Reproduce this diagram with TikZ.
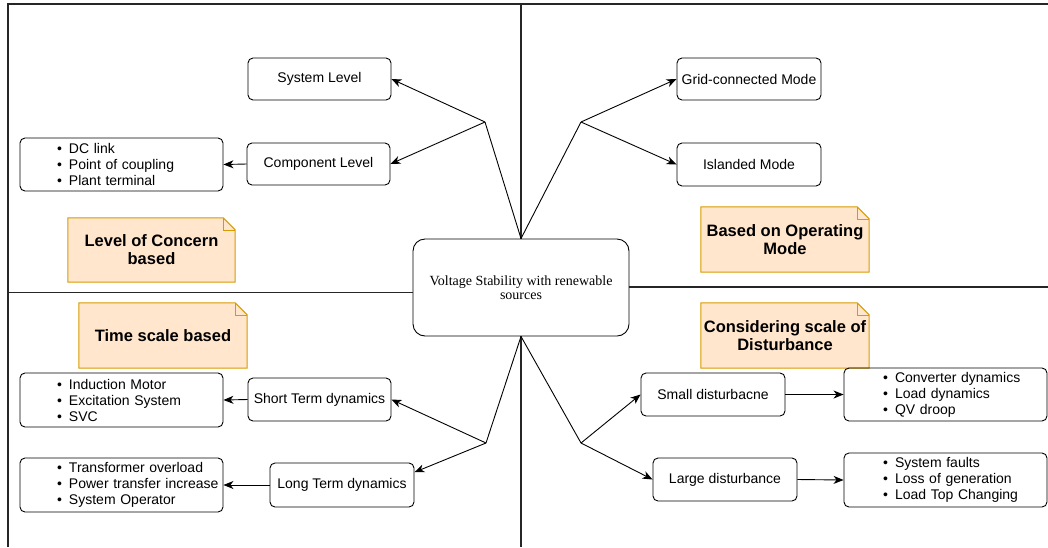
\documentclass[tikz,border=0pt]{standalone}
\usepackage{fontspec}
\setmainfont{Liberation Sans}
\newfontfamily\serifc{Liberation Serif}
\usetikzlibrary{arrows.meta,calc,backgrounds}
\definecolor{notefill}{HTML}{FFE6CC}
\definecolor{notedraw}{HTML}{D79B00}
\newcommand{\bitem}{\hspace*{49pt}\llap{\textbullet\hspace{7pt}}}
\begin{document}
\begin{tikzpicture}[x=1pt,y=-1pt,
  box/.style={draw=black, rounded corners=5pt, line width=0.9pt, font=\fontsize{14}{16}\selectfont, inner sep=0pt, align=center},
  bul/.style={box, minimum width=203pt, text width=203pt, align=left},
  notebox/.style={inner sep=0pt, align=center, font=\fontsize{16.5}{18}\selectfont\bfseries},
  arr/.style={-{Stealth[length=10pt,width=8pt,inset=3pt]}, line width=0.9pt},
  ln/.style={line width=0.9pt},
  frame/.style={line width=1.3pt, draw=black!85}
]
\useasboundingbox (0,0) rectangle (1048,547);

% central
\node[box, minimum width=216pt, minimum height=97pt, rounded corners=12pt, font=\serifc\fontsize{14}{14.5}\selectfont] (C) at (521,287.5) {Voltage Stability with renewable\\sources};

% top left
\node[box, minimum width=143pt, minimum height=42pt] (SL) at (319.5,79) {System Level};
\node[box, minimum width=143pt, minimum height=42pt] (CL) at (318.5,164) {Component Level};
\node[bul, minimum height=53pt] (B1) at (121.5,164.5) {\bitem DC link\\\bitem Point of coupling\\\bitem Plant terminal};
\node[notebox, minimum width=167pt, minimum height=64pt] (N1) at (151.5,250) {Level of Concern\\based};

% top right
\node[box, minimum width=144pt, minimum height=42pt] (GM) at (749,79) {Grid-connected Mode};
\node[box, minimum width=144pt, minimum height=43pt] (IM) at (749,164.5) {Islanded Mode};
\node[notebox, minimum width=168pt, minimum height=65pt] (N2) at (785,239.5) {Based on Operating\\Mode};

% bottom left
\node[notebox, minimum width=168pt, minimum height=65pt] (N3) at (163,335.5) {Time scale based};
\node[bul, minimum height=54pt] (B2) at (121.5,400) {\bitem Induction Motor\\\bitem Excitation System\\\bitem SVC};
\node[box, minimum width=143pt, minimum height=43pt] (ST) at (319.5,399.5) {Short Term dynamics};
\node[bul, minimum height=54pt] (B3) at (121.5,485) {\bitem Transformer overload\\\bitem Power transfer increase\\\bitem System Operator};
\node[box, minimum width=144pt, minimum height=44pt] (LT) at (342,485) {Long Term dynamics};

% bottom right
\node[notebox, minimum width=168pt, minimum height=65pt] (N4) at (785,335.5) {Considering scale of\\Disturbance};
\node[box, minimum width=144pt, minimum height=43pt] (SD) at (713,394.5) {Small disturbacne};
\node[box, minimum width=144pt, minimum height=43pt] (LD) at (725,479.5) {Large disturbance};
\node[bul, minimum height=53pt] (B4) at (945.5,394.5) {\hspace*{2pt}\bitem Converter dynamics\\\hspace*{2pt}\bitem Load dynamics\\\hspace*{2pt}\bitem QV droop};
\node[bul, minimum height=54pt] (B5) at (945.5,480) {\hspace*{2pt}\bitem System faults\\\hspace*{2pt}\bitem Loss of generation\\\hspace*{2pt}\bitem Load Top Changing};

% notes background
\begin{scope}[on background layer]
\foreach \n in {N1,N2,N3,N4}{
  \filldraw[fill=notefill, draw=notedraw, line width=1pt]
    (\n.south west) -- (\n.north west) -- ([xshift=-12pt]\n.north east)
    -- ([yshift=-12pt]\n.north east) -- (\n.south east) -- cycle;
  \draw[notedraw, line width=0.6pt] ([xshift=-12pt]\n.north east) -- ([xshift=-12pt,yshift=-12pt]\n.north east) -- ([yshift=-12pt]\n.north east);
}
\end{scope}

% frame
\coordinate (TL) at (8,4);
\coordinate (TR) at (1048,4);
\coordinate (BL) at (8,547);
\coordinate (HL) at (8,292.5);
\coordinate (HR) at (1048,287);
\draw[frame] (BL) -- (TL) -- (TR);
\draw[frame] (HL) -- (HL -| C.west);
\draw[frame] (C.east |- HR) -- (HR);
\draw[frame] (C.north) -- (C.north |- TL);
\draw[frame] (C.south) -- (C.south |- BL);

% junctions
\coordinate (J1) at (485,122);
\coordinate (J2) at (581,122);
\coordinate (J3) at (486,443);
\coordinate (J4) at (581,443);

\draw[ln] (C.north) -- (J1);
\draw[ln] (C.north) -- (J2);
\draw[ln] (C.south) -- (J3);
\draw[ln] (C.south) -- (J4);

\draw[arr] (J1) -- (SL.east);
\draw[arr] (J1) -- (CL.east);
\draw[arr] (CL.west) -- (B1.east);
\draw[arr] (J2) -- (GM.west);
\draw[arr] (J2) -- (IM.west);
\draw[arr] (J3) -- (ST.east);
\draw[arr] (J3) -- (LT.10);
\draw[arr] (ST.west) -- (B2.east);
\draw[arr] (LT.west) -- (B3.east);
\draw[arr] (J4) -- (SD.west);
\draw[arr] (J4) -- (LD.west);
\draw[arr] (SD.east) -- (B4.west);
\draw[arr] (LD.east) -- (B5.west);
\end{tikzpicture}
\end{document}
